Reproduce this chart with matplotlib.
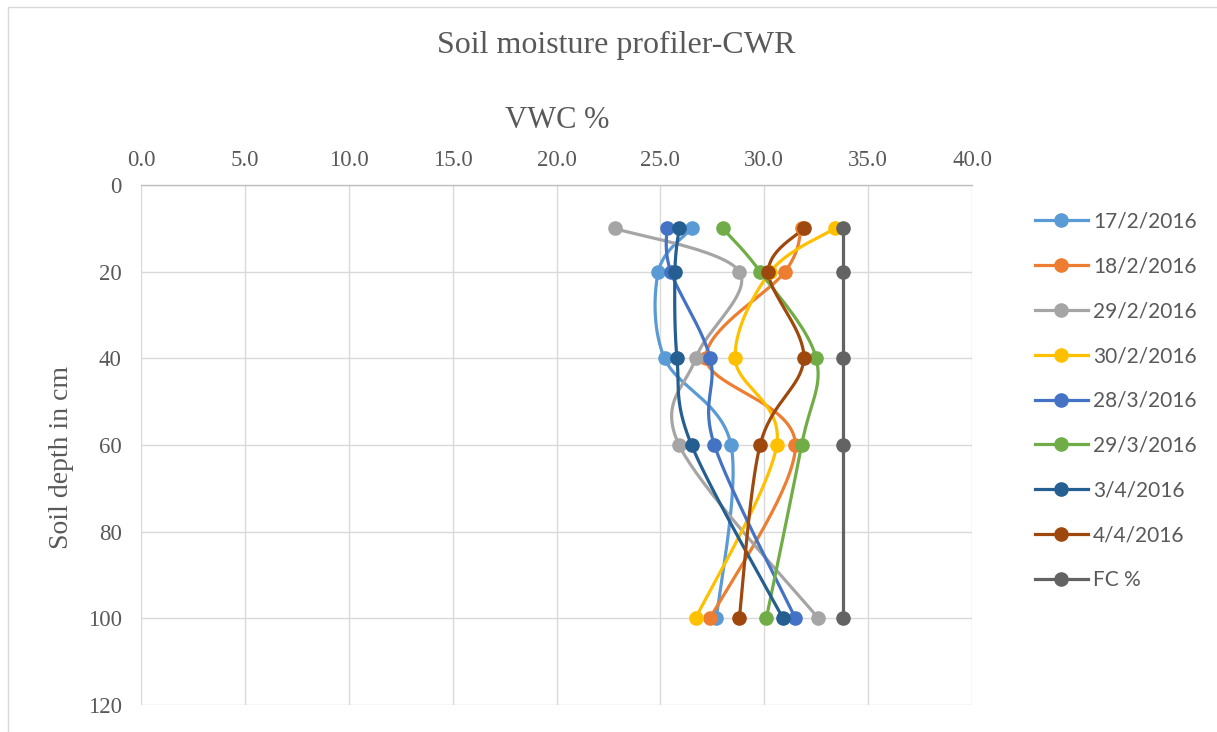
import numpy as np
import matplotlib
matplotlib.use("Agg")
import matplotlib.pyplot as plt
from matplotlib.lines import Line2D
from matplotlib.patches import Rectangle

# Soil depths (cm) and volumetric water content (%) per sampling date
depths = [10, 20, 40, 60, 100]
vwc_17_2 = [26.5, 24.9, 25.2, 28.4, 27.7]
vwc_18_2 = [31.8, 31.0, 27.2, 31.5, 27.4]
vwc_29_2 = [22.8, 28.8, 26.7, 25.9, 32.6]
vwc_30_2 = [33.4, 30.3, 28.6, 30.6, 26.7]
vwc_28_3 = [25.3, 25.5, 27.4, 27.6, 31.5]
vwc_29_3 = [28.0, 29.8, 32.5, 31.8, 30.1]
vwc_3_4 = [25.9, 25.7, 25.8, 26.5, 30.9]
vwc_4_4 = [31.9, 30.2, 31.9, 29.8, 28.8]
fc = [33.8, 33.8, 33.8, 33.8, 33.8]

labels = ["17/2/2016", "18/2/2016", "29/2/2016", "30/2/2016",
          "28/3/2016", "29/3/2016", "3/4/2016", "4/4/2016", "FC %"]
series = [vwc_17_2, vwc_18_2, vwc_29_2, vwc_30_2, vwc_28_3,
          vwc_29_3, vwc_3_4, vwc_4_4, fc]
colors = ["#5B9BD5", "#ED7D31", "#A5A5A5", "#FFC000", "#4472C4",
          "#70AD47", "#255E91", "#9E480E", "#636363"]

X_MAX, Y_MAX = 40, 120


def smooth(xs, ys, ax_w, ax_h, n=40):
    """Bezier smoothing through the points (spreadsheet-style smoothed lines)."""
    px = np.asarray(xs, float) / X_MAX * ax_w
    py = np.asarray(ys, float) / Y_MAX * ax_h
    pts = np.column_stack([px, py])
    out = []
    m = len(pts)
    t = np.linspace(0, 1, n)[:, None]
    for i in range(m - 1):
        p0 = pts[i - 1] if i > 0 else pts[i]
        p1 = pts[i]
        p2 = pts[i + 1]
        p3 = pts[i + 2] if i + 2 < m else pts[i + 1]
        c1 = p1 + (p2 - p0) / 6.0
        c2 = p2 - (p3 - p1) / 6.0
        seg = ((1 - t) ** 3) * p1 + 3 * ((1 - t) ** 2) * t * c1 \
            + 3 * (1 - t) * t ** 2 * c2 + t ** 3 * p2
        out.append(seg if i == 0 else seg[1:])
    curve = np.vstack(out)
    return curve[:, 0] / ax_w * X_MAX, curve[:, 1] / ax_h * Y_MAX


W, H, DPI = 1217, 732, 100
fig = plt.figure(figsize=(W / DPI, H / DPI), dpi=DPI)

serif = "Liberation Serif"
txt_col = "#595959"

# outer chart frame
fig.patches.append(Rectangle((8 / W, -0.01), 1.0, 1 - 7 / H + 0.01,
                             transform=fig.transFigure, fill=False,
                             edgecolor="#d9d9d9", linewidth=1.0))

left, right, top, bottom = 141, 972, 185, 705
ax = fig.add_axes([left / W, 1 - bottom / H, (right - left) / W, (bottom - top) / H])
ax_w, ax_h = right - left, bottom - top

for ys, col in zip(series, colors):
    sx, sy = smooth(ys, depths, ax_w, ax_h)
    ax.plot(sx, sy, color=col, linewidth=2.3, solid_capstyle="round", zorder=3)
    ax.plot(ys, depths, linestyle="none", marker="o", markersize=9.5,
            color=col, zorder=4)

ax.set_xlim(0, X_MAX)
ax.set_ylim(Y_MAX, 0)
ax.set_xticks(np.arange(0, 41, 5))
ax.set_yticks(np.arange(0, 121, 20))
ax.xaxis.set_major_formatter(matplotlib.ticker.FormatStrFormatter("%.1f"))
ax.xaxis.tick_top()
ax.tick_params(axis="x", length=0, labelsize=16.5, labelcolor=txt_col, pad=10)
ax.tick_params(axis="y", length=0, labelsize=16.5, labelcolor=txt_col, pad=14)
for lab in ax.get_xticklabels() + ax.get_yticklabels():
    lab.set_fontfamily(serif)
ax.grid(True, color="#d9d9d9", linewidth=1.0, zorder=0)
ax.set_axisbelow(True)
for s in ["left", "right", "bottom"]:
    ax.spines[s].set_visible(False)
ax.spines["top"].set_color("#bfbfbf")
ax.spines["top"].set_linewidth(1.0)

fig.text(616 / W, 1 - 45 / H, "Soil moisture profiler-CWR", ha="center",
         va="center", fontsize=23, family=serif, color=txt_col)
fig.text(557 / W, 1 - 120 / H, "VWC %", ha="center", va="center",
         fontsize=22, family=serif, color=txt_col)
fig.text(62 / W, 1 - 457 / H, "Soil depth in cm", ha="center", va="center",
         rotation=90, fontsize=20, family=serif, color=txt_col)

handles = [Line2D([], [], color=c, linewidth=2.3, marker="o", markersize=9.5)
           for c in colors]
leg = fig.legend(handles, labels, loc="upper left",
                 bbox_to_anchor=(1016 / W, 1 - 193 / H), frameon=False,
                 prop={"family": "Lato", "size": 15}, labelcolor=txt_col,
                 handlelength=2.55, handletextpad=0.25, labelspacing=1.19)

fig.savefig("out.png", dpi=DPI)
